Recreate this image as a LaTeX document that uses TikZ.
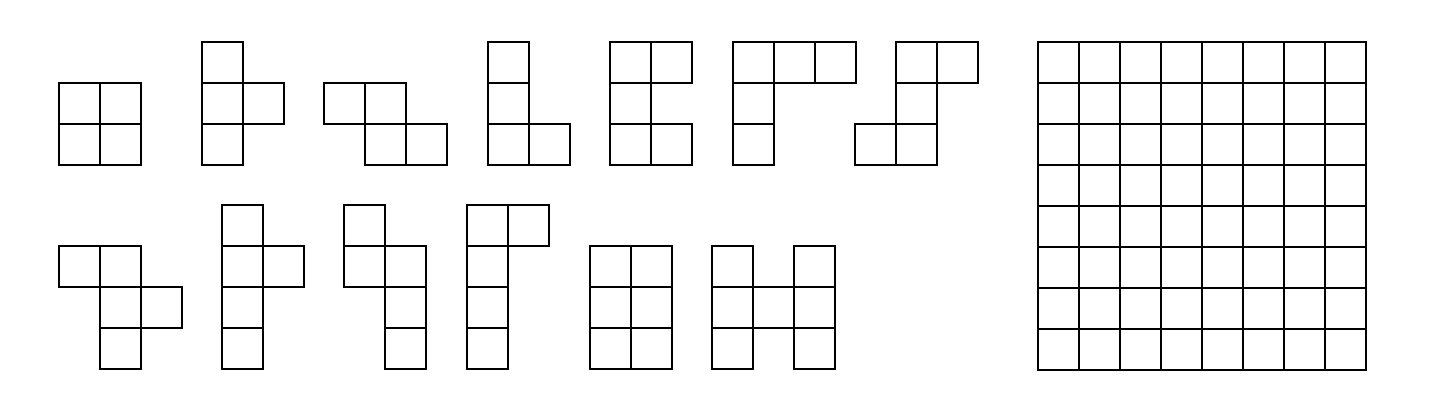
\documentclass[tikz,border=0pt]{standalone}
\usepackage{tikz}

\begin{document}
\begin{tikzpicture}[
  x=0.02cm,y=-0.02cm,
  cellbox/.style={draw=black,line width=1.2pt,line join=miter},
  gridline/.style={draw=black,line width=1.2pt,line cap=rect}
]
\useasboundingbox (0,0) rectangle (1444,406);
% top row of pieces: shift in px, cells as column/row
\foreach \px/\py/\cells in {
  59/83/{0/0,1/0,0/1,1/1},
  202/42/{0/0,0/1,1/1,0/2},
  324/83/{0/0,1/0,1/1,2/1},
  488/42/{0/0,0/1,0/2,1/2},
  610/42/{0/0,1/0,0/1,0/2,1/2},
  733/42/{0/0,1/0,2/0,0/1,0/2},
  855/42/{1/0,2/0,1/1,0/2,1/2}}{
  \begin{scope}[shift={(\px,\py)}]
    \foreach \c/\r in \cells \draw[cellbox] (41*\c,41*\r) rectangle ++(41,41);
  \end{scope}
}
% bottom row of pieces
\foreach \px/\py/\cells in {
  59/246/{0/0,1/0,1/1,2/1,1/2},
  222/205/{0/0,0/1,1/1,0/2,0/3},
  344/205/{0/0,0/1,1/1,1/2,1/3},
  467/205/{0/0,1/0,0/1,0/2,0/3},
  590/246/{0/0,1/0,0/1,1/1,0/2,1/2},
  712/246/{0/0,2/0,0/1,1/1,2/1,0/2,2/2}}{
  \begin{scope}[shift={(\px,\py)}]
    \foreach \c/\r in \cells \draw[cellbox] (41*\c,41*\r) rectangle ++(41,41);
  \end{scope}
}
% the 8x8 board
\begin{scope}[shift={(1038,42)}]
  \foreach \i in {0,...,8}{
    \draw[gridline] (41*\i,0) -- (41*\i,328);
    \draw[gridline] (0,41*\i) -- (328,41*\i);
  }
\end{scope}
\end{tikzpicture}
\end{document}
